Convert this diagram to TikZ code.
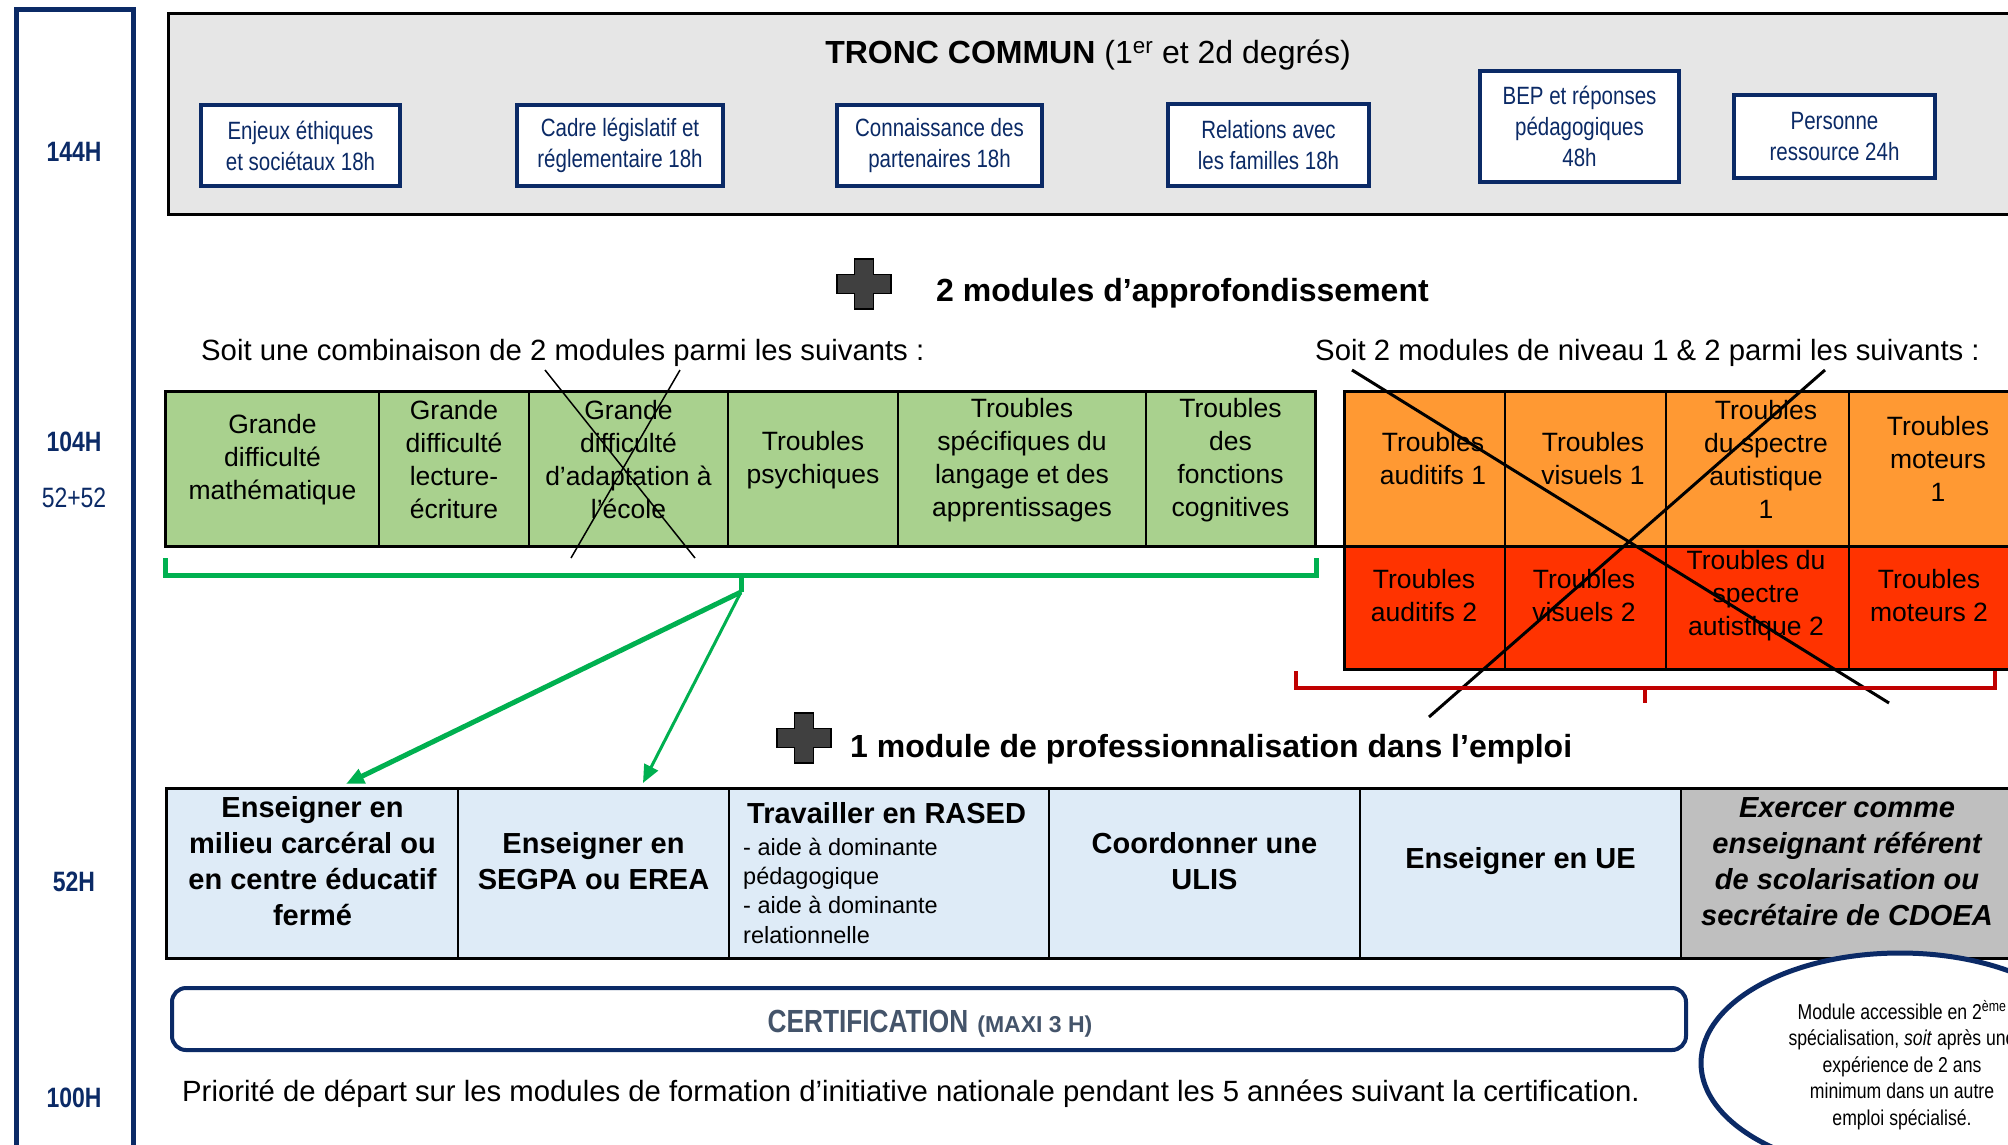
\documentclass[tikz,border=0pt]{standalone}
\usepackage{fontspec}
\setmainfont{Liberation Sans}
\newfontfamily\narrowfont[FakeStretch=0.82]{Liberation Sans}
\usetikzlibrary{arrows.meta,calc,shapes.geometric}
\definecolor{navyc}{HTML}{0B2A66}
\definecolor{troncgray}{HTML}{E6E6E6}
\definecolor{greenfill}{HTML}{A9D18E}
\definecolor{greenline}{HTML}{00B050}
\definecolor{orangefill}{HTML}{FF9933}
\definecolor{redfill}{HTML}{FF3300}
\definecolor{redline}{HTML}{C00000}
\definecolor{bluefill}{HTML}{DEEBF7}
\definecolor{grayfill}{HTML}{BFBFBF}
\definecolor{certtext}{HTML}{44546A}
\definecolor{plusgray}{HTML}{404040}
\newcommand\fsz[2]{\fontsize{#1}{#2}\selectfont}
\begin{document}
\begin{tikzpicture}[x=1pt,y=-1pt,
  hour/.style={text=navyc, font=\narrowfont\bfseries\fsz{28}{32}, inner sep=0},
  hourr/.style={text=navyc, font=\narrowfont\fsz{28}{32}, inner sep=0},
  topbox/.style={draw=navyc, line width=4, fill=white, text=navyc, align=center, inner sep=0, font=\narrowfont\fsz{25}{31}},
  gcell/.style={draw=black, line width=1.5, fill=greenfill, inner sep=0, minimum height=154},
  ocell/.style={draw=black, line width=1.5, fill=orangefill, inner sep=0, minimum height=154},
  rcell/.style={draw=black, line width=1.5, fill=redfill, inner sep=0, minimum height=123},
  bcell/.style={draw=black, line width=1.5, fill=bluefill, inner sep=0, minimum height=169},
  ctxt/.style={align=center, inner sep=0, font=\fsz{26.5}{33}},
  btxt/.style={align=center, inner sep=0, font=\bfseries\fsz{29}{36}},
  head/.style={inner sep=0, font=\bfseries\fsz{32}{38}},
  subhead/.style={inner sep=0, font=\fsz{29.3}{34}},
  listtxt/.style={inner sep=0, font=\fsz{23.5}{29}},
  gline/.style={draw=greenline, line width=5},
  garrow/.style={draw=greenline, -{Triangle[length=18pt,width=15pt]}},
  rline/.style={draw=redline, line width=4},
  xthin/.style={draw=black, line width=1.5},
  xthick/.style={draw=black, line width=3},
  plusmark/.pic={\filldraw[fill=plusgray, draw=black, line width=1.5]
     (-9.5,-25) -- (9.5,-25) -- (9.5,-9.5) -- (27,-9.5) -- (27,9.5) -- (9.5,9.5)
     -- (9.5,25) -- (-9.5,25) -- (-9.5,9.5) -- (-27,9.5) -- (-27,-9.5) -- (-9.5,-9.5) -- cycle;}
]
\useasboundingbox (0,0) rectangle (2008,1144);
\clip (0,0) rectangle (2008,1144);
\fill[white] (0,0) rectangle (2008,1144);

% left bar
\draw[navyc, line width=5] (16.5,9.5) rectangle (133.5,1160);
\node[hour] (h144) at (74,152) {144H};
\node[hour] (h104) at (74,442) {104H};
\node[hourr] (h5252) at (74,498) {52+52};
\node[hour] (h52) at (74,882) {52H};
\node[hour] (h100) at (74,1098) {100H};

% tronc commun
\node[draw=black, line width=2.5, fill=troncgray, anchor=north west, minimum width=1880, minimum height=201, inner sep=0] (tronc) at (167,12) {};
\node[anchor=base, inner sep=0, font=\fsz{32}{38}] (ttitle) at (1088,63) {\textbf{TRONC COMMUN} (1\textsuperscript{er} et 2d degrés)};
\node[topbox, minimum width=199, minimum height=81] (t1) at (300.5,145.5) {Enjeux éthiques\\et sociétaux 18h};
\node[topbox, minimum width=206, minimum height=81] (t2) at (620,145.5) {Cadre législatif et\\réglementaire 18h};
\node[topbox, minimum width=205, minimum height=81] (t3) at (939.5,145.5) {Connaissance des\\partenaires 18h};
\node[topbox, minimum width=201, minimum height=82] (t4) at (1268.5,145) {Relations avec\\les familles 18h};
\node[topbox, minimum width=199, minimum height=111] (t5) at (1579.5,126.5) {BEP et réponses\\pédagogiques\\48h};
\node[topbox, minimum width=201, minimum height=83] (t6) at (1834.5,136.5) {Personne\\ressource 24h};

% approfondissement
\pic at (864,284) {plusmark};
\node[head, anchor=base west] (h2mod) at (936,301) {2 modules d’approfondissement};
\node[subhead, anchor=base west] (soit1) at (201,360) {Soit une combinaison de 2 modules parmi les suivants :};
\node[subhead, anchor=base west] (soit2) at (1315,360) {Soit 2 modules de niveau 1 \& 2 parmi les suivants :};

% green cells
\node[gcell, minimum width=213] (g1) at (272.5,469) {};
\node[gcell, minimum width=150] (g2) at (454,469) {};
\node[gcell, minimum width=199] (g3) at (628.5,469) {};
\node[gcell, minimum width=170] (g4) at (813,469) {};
\node[gcell, minimum width=248] (g5) at (1022,469) {};
\node[gcell, minimum width=169] (g6) at (1230.5,469) {};
\draw[line width=3] (g1.north west) rectangle (g6.south east);
\node[ctxt] (g1t) at ($(g1.center)+(0,-9)$) {Grande\\difficulté\\mathématique};
\node[ctxt] (g2t) at ($(g2.center)+(0,-9)$) {Grande\\difficulté\\lecture-\\écriture};
\node[ctxt] (g3t) at ($(g3.center)+(0,-9)$) {Grande\\difficulté\\d’adaptation à\\l’école};
\node[ctxt] (g4t) at ($(g4.center)+(0,-9)$) {Troubles\\psychiques};
\node[ctxt] (g5t) at ($(g5.center)+(0,-9)$) {Troubles\\spécifiques du\\langage et des\\apprentissages};
\node[ctxt] (g6t) at ($(g6.center)+(0,-9)$) {Troubles\\des\\fonctions\\cognitives};
\draw[xthin] (545,370) -- (695,558);
\draw[xthin] (680,370) -- (571,558);

% orange / red cells
\node[ocell, minimum width=160] (o1) at (1425,469) {};
\node[ocell, minimum width=161] (o2) at (1585.5,469) {};
\node[ocell, minimum width=183] (o3) at (1757.5,469) {};
\node[ocell, minimum width=181] (o4) at (1939.5,469) {};
\node[rcell, minimum width=160] (r1) at (1425,607.5) {};
\node[rcell, minimum width=161] (r2) at (1585.5,607.5) {};
\node[rcell, minimum width=183] (r3) at (1757.5,607.5) {};
\node[rcell, minimum width=181] (r4) at (1939.5,607.5) {};
\draw[line width=3] (o1.north west) rectangle (r4.south east);
\draw[line width=3] (g6.south east) -- (o1.south west) -- (o4.south east);
\node[ctxt] (o1t) at (1433,459) {Troubles\\auditifs 1};
\node[ctxt] (o2t) at (1593,459) {Troubles\\visuels 1};
\node[ctxt] (o3t) at (1766,459) {Troubles\\du spectre\\autistique\\1};
\node[ctxt] (o4t) at (1938,459) {Troubles\\moteurs\\1};
\node[ctxt] (r1t) at (1424,596) {Troubles\\auditifs 2};
\node[ctxt] (r2t) at (1584,596) {Troubles\\visuels 2};
\node[ctxt] (r3t) at (1756,596) {Troubles du\\spectre\\autistique 2};
\node[ctxt] (r4t) at (1929,596) {Troubles\\moteurs 2};
\draw[xthick] (1352,370) -- (1889,703);
\draw[xthick] (1825,370) -- (1429,717);

% brackets
\coordinate (gbL) at (165,558);
\coordinate (gbR) at (1316,558);
\coordinate (gbM) at (741,575);
\coordinate (gstem) at (741,592);
\draw[gline] (gbL) |- (gbR |- gbM) -- (gbR);
\draw[gline] (gbM) -- (gstem);
\coordinate (rbL) at (1296,671);
\coordinate (rbR) at (1995,671);
\coordinate (rbM) at (1645,688);
\coordinate (rstem) at (1645,703);
\draw[rline] (rbL) |- (rbR |- rbM) -- (rbR);
\draw[rline] (rbM) -- (rstem);

% professionnalisation
\pic at (804,738) {plusmark};
\node[head, anchor=base west] (h1mod) at (850,757) {1 module de professionnalisation dans l’emploi};

% blue cells
\node[bcell, minimum width=291] (b1) at (312.5,873.5) {};
\node[bcell, minimum width=271] (b2) at (593.5,873.5) {};
\node[bcell, minimum width=320] (b3) at (889,873.5) {};
\node[bcell, minimum width=311] (b4) at (1204.5,873.5) {};
\node[bcell, minimum width=321] (b5) at (1520.5,873.5) {};
\node[bcell, fill=grayfill, minimum width=349] (b6) at (1855.5,873.5) {};
\draw[line width=3] (b1.north west) rectangle (b6.south east);
\node[btxt] (b1t) at ($(b1.center)+(0,-12)$) {Enseigner en\\milieu carcéral ou\\en centre éducatif\\fermé};
\node[btxt] (b2t) at ($(b2.center)+(0,-12)$) {Enseigner en\\SEGPA ou EREA};
\node[btxt, anchor=base west] (b3t) at (747,823) {Travailler en RASED};
\node[listtxt, anchor=base west] (b3l1) at (743,855) {- aide à dominante};
\node[listtxt, anchor=base west] (b3l2) at (743,884) {pédagogique};
\node[listtxt, anchor=base west] (b3l3) at (743,913) {- aide à dominante};
\node[listtxt, anchor=base west] (b3l4) at (743,943) {relationnelle};
\node[btxt] (b4t) at ($(b4.center)+(0,-12)$) {Coordonner une\\ULIS};
\node[btxt] (b5t) at ($(b5.center)+(0,-12)$) {Enseigner en UE};
\node[btxt, font=\bfseries\itshape\fsz{29}{36}] (b6t) at (1847,861.5) {Exercer comme\\enseignant référent\\de scolarisation ou\\secrétaire de CDOEA};

% green arrows
\coordinate (a1) at (346,784);
\coordinate (a2) at (643,783);
\draw[garrow, line width=5] (gstem) -- (a1);
\draw[garrow, line width=3] (gstem) -- (a2);

% certification
\node[draw=navyc, line width=4, rounded corners=14, fill=white, minimum width=1514, minimum height=62, inner sep=0] (cert) at (929,1019) {};
\node[anchor=base, inner sep=0, text=certtext] (certt) at (930,1032) {{\narrowfont\bfseries\fsz{32}{36}CERTIFICATION}\hspace{9pt}{\bfseries\fsz{23}{26}(MAXI 3 H)}};
\node[anchor=base west, inner sep=0, font=\fsz{29.3}{34}] (prio) at (182,1101) {Priorité de départ sur les modules de formation d’initiative nationale pendant les 5 années suivant la certification.};

% circle note
\node[ellipse, draw=navyc, line width=5, fill=white, minimum width=398, minimum height=220, inner sep=0] (circ) at (1900,1063) {};
\node[align=center, inner sep=0, font=\narrowfont\fsz{21.5}{26.5}] (circt) at (1902,1065) {Module accessible en 2\textsuperscript{ème}\\spécialisation, \textit{soit} après une\\expérience de 2 ans\\minimum dans un autre\\emploi spécialisé.};
\end{tikzpicture}
\end{document}
